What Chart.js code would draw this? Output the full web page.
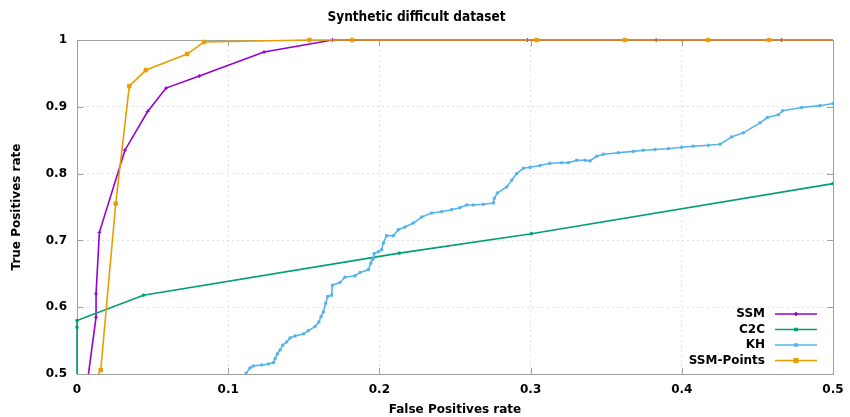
<!DOCTYPE html>
<html>
<head>
<meta charset="utf-8">
<script src="https://cdn.jsdelivr.net/npm/chart.js@4/dist/chart.umd.min.js"></script>
<style>
html,body{margin:0;padding:0;background:#fff;}
#wrap{width:850px;height:417px;position:relative;}
</style>
</head>
<body>
<div id="wrap"><canvas id="c" width="850" height="417"></canvas></div>
<script>
// ---- data ----
const chartTitle = "Synthetic difficult dataset";
const xTitle = "False Positives rate";
const yTitle = "True Positives rate";
const seriesNames = ["SSM", "C2C", "KH", "SSM-Points"];

const ssmX = [0.004, 0.0126, 0.0126, 0.0148, 0.0317, 0.0467, 0.0589, 0.0809, 0.1237, 0.169, 0.298, 0.383, 0.466, 0.55];
const ssmY = [0.44, 0.585, 0.620, 0.712, 0.835, 0.893, 0.928, 0.946, 0.982, 1, 1, 1, 1, 1];

const c2cX = [0, 0, 0, 0.0439, 0.2132, 0.3005, 0.5];
const c2cY = [0.45, 0.570, 0.580, 0.618, 0.681, 0.710, 0.785];

const khX = [0.1105, 0.1118, 0.1144, 0.1166, 0.1221, 0.1266, 0.1299, 0.131, 0.1325, 0.1343, 0.136, 0.1387, 0.1409, 0.1442, 0.1497, 0.153, 0.1574, 0.16, 0.1614, 0.1629, 0.1645, 0.1658, 0.1684, 0.1689, 0.1739, 0.1772, 0.1839, 0.1872, 0.1927, 0.1944, 0.1953, 0.196, 0.1964, 0.1993, 0.2015, 0.2026, 0.2048, 0.2092, 0.2125, 0.2169, 0.2225, 0.228, 0.2346, 0.2412, 0.2478, 0.2533, 0.2577, 0.2621, 0.2687, 0.2754, 0.276, 0.278, 0.2842, 0.2875, 0.2908, 0.2952, 0.2996, 0.3062, 0.3128, 0.3206, 0.325, 0.3305, 0.336, 0.3393, 0.3437, 0.3481, 0.358, 0.3679, 0.3745, 0.3823, 0.3911, 0.3999, 0.4076, 0.4175, 0.4253, 0.433, 0.4407, 0.4517, 0.4566, 0.4638, 0.4667, 0.4793, 0.4914, 0.5];
const khY = [0.495, 0.501, 0.509, 0.512, 0.5135, 0.515, 0.517, 0.523, 0.530, 0.536, 0.543, 0.548, 0.554, 0.557, 0.560, 0.565, 0.571, 0.578, 0.586, 0.593, 0.606, 0.616, 0.618, 0.633, 0.637, 0.645, 0.647, 0.652, 0.656, 0.666, 0.671, 0.673, 0.680, 0.683, 0.686, 0.696, 0.707, 0.707, 0.716, 0.720, 0.726, 0.735, 0.741, 0.743, 0.746, 0.749, 0.753, 0.753, 0.754, 0.756, 0.763, 0.771, 0.780, 0.790, 0.800, 0.808, 0.8094, 0.812, 0.8154, 0.8163, 0.8163, 0.820, 0.820, 0.819, 0.826, 0.829, 0.8313, 0.8333, 0.835, 0.836, 0.8373, 0.8394, 0.841, 0.8424, 0.844, 0.855, 0.861, 0.876, 0.884, 0.888, 0.894, 0.899, 0.9017, 0.905];

const ssmpX = [0.005, 0.0157, 0.0256, 0.0346, 0.0456, 0.0728, 0.084, 0.1537, 0.182, 0.304, 0.3624, 0.4175, 0.4577, 0.55];
const ssmpY = [0.46, 0.506, 0.755, 0.931, 0.955, 0.979, 0.997, 1, 1, 1, 1, 1, 1, 1];

const xTicks = [0, 0.1, 0.2, 0.3, 0.4, 0.5];
const yTicks = [0.5, 0.6, 0.7, 0.8, 0.9, 1];

// ---- styling ----
const colors = ["#9400D3", "#009E73", "#56B4E9", "#E69F00"];
const FONT = "'DejaVu Sans', 'Liberation Sans', sans-serif";
const zip = (xs, ys) => xs.map((x, i) => ({x: x, y: ys[i]}));
const fmt = v => String(+(+v).toFixed(1));

const ds = (label, xs, ys, color, style, radius) => ({
  label: label,
  data: zip(xs, ys),
  showLine: true,
  borderColor: color,
  backgroundColor: color,
  borderWidth: 1.6,
  pointStyle: style,
  pointRadius: radius,
  pointBorderWidth: 1,
  pointHoverRadius: radius,
  tension: 0,
  clip: {left: 3, top: 3, right: 0, bottom: 0}
});

const datasets = [
  ds(seriesNames[0], ssmX, ssmY, colors[0], 'cross', 2),
  ds(seriesNames[1], c2cX, c2cY, colors[1], 'rect', 1.5),
  ds(seriesNames[2], khX, khY, colors[2], 'rect', 1.5),
  ds(seriesNames[3], ssmpX, ssmpY, colors[3], 'rect', 2.5)
];
// draw order: later series on top
datasets.forEach((d, i) => d.order = datasets.length - i);

const frame = {
  id: 'frame',
  beforeDatasetsDraw(chart) {
    const {ctx, chartArea: a, scales} = chart;
    ctx.save();
    ctx.strokeStyle = '#a0a0a0';
    ctx.lineWidth = 1;
    ctx.beginPath();
    xTicks.forEach(t => {
      const px = Math.round(scales.x.getPixelForValue(t)) + 0.5;
      ctx.moveTo(px, a.bottom); ctx.lineTo(px, a.bottom - 6);
      ctx.moveTo(px, a.top); ctx.lineTo(px, a.top + 6);
    });
    yTicks.forEach(t => {
      const py = Math.round(scales.y.getPixelForValue(t)) + 0.5;
      ctx.moveTo(a.left, py); ctx.lineTo(a.left + 6, py);
      ctx.moveTo(a.right, py); ctx.lineTo(a.right - 6, py);
    });
    ctx.stroke();
    ctx.strokeRect(Math.round(a.left) + 0.5, Math.round(a.top) + 0.5, Math.round(a.right - a.left), Math.round(a.bottom - a.top));
    ctx.restore();
  },
  afterDatasetsDraw(chart) {
    const {ctx} = chart;
    ctx.save();
    ctx.font = "bold 12px " + FONT;
    ctx.textAlign = 'right';
    ctx.textBaseline = 'middle';
    const rows = [314, 329.5, 345, 360.5];
    chart.data.datasets.forEach((d, i) => {
      const y = rows[i];
      ctx.fillStyle = '#000';
      ctx.fillText(d.label, 765, y);
      ctx.strokeStyle = d.borderColor;
      ctx.lineWidth = 1.6;
      ctx.beginPath(); ctx.moveTo(775, y); ctx.lineTo(817, y); ctx.stroke();
      ctx.fillStyle = d.backgroundColor;
      ctx.strokeStyle = d.borderColor;
      Chart.helpers.drawPoint(ctx, {pointStyle: d.pointStyle, radius: d.pointRadius, borderWidth: 1, rotation: 0}, 796, y);
    });
    ctx.restore();
  }
};

new Chart(document.getElementById('c'), {
  type: 'scatter',
  data: {datasets: datasets},
  plugins: [frame],
  options: {
    responsive: false,
    animation: false,
    events: [],
    layout: {padding: {left: 0, right: 17, top: 0, bottom: 0}},
    plugins: {
      legend: {display: false},
      tooltip: {enabled: false},
      title: {
        display: true,
        text: chartTitle,
        color: '#000',
        font: {family: "'DejaVu Sans Condensed', " + FONT, size: 13.5, weight: 'bold'},
        padding: {top: 9, bottom: 14.8}
      }
    },
    scales: {
      x: {
        type: 'linear',
        min: 0, max: 0.5,
        afterFit: s => { s.height = 43; s.paddingRight = 0; s.paddingLeft = 0; },
        afterBuildTicks: s => { s.ticks = xTicks.map(v => ({value: v})); },
        ticks: {
          callback: fmt, color: '#000', padding: 9, maxRotation: 0, autoSkip: false,
          font: {family: FONT, size: 12, weight: 'bold'}
        },
        grid: {color: '#e2e2e2', lineWidth: 1, drawTicks: false},
        border: {display: false, dash: [2, 3]},
        title: {
          display: true, text: xTitle, color: '#000',
          font: {family: FONT, size: 12, weight: 'bold'},
          padding: {top: 0, bottom: 0}
        }
      },
      y: {
        type: 'linear',
        min: 0.5, max: 1,
        afterFit: s => { s.width = 77; s.paddingTop = 0; s.paddingBottom = 0; },
        afterBuildTicks: s => { s.ticks = yTicks.map(v => ({value: v})); },
        ticks: {
          callback: fmt, color: '#000', padding: 10, autoSkip: false,
          font: {family: FONT, size: 12, weight: 'bold'}
        },
        grid: {color: '#e2e2e2', lineWidth: 1, drawTicks: false},
        border: {display: false, dash: [2, 3]},
        title: {
          display: true, text: yTitle, color: '#000',
          font: {family: FONT, size: 12, weight: 'bold'},
          padding: {top: 10, bottom: 0}
        }
      }
    }
  }
});
</script>
</body>
</html>
